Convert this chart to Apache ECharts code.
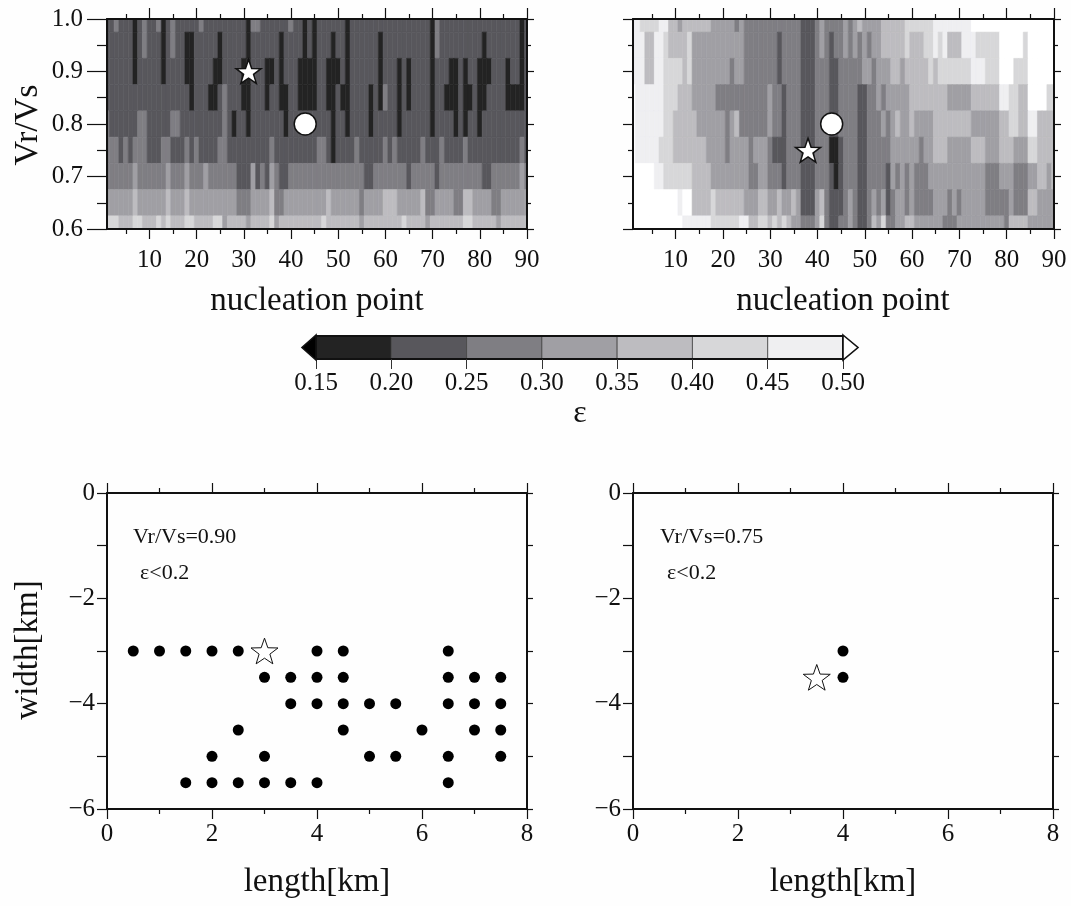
<!DOCTYPE html>
<html>
<head>
<meta charset="utf-8">
<title>Vr/Vs - nucleation point misfit</title>
<script src="https://cdn.jsdelivr.net/npm/echarts@6.0.0/dist/echarts.min.js"></script>
<style>
  html, body { margin: 0; padding: 0; background: #fefefe; }
  #chart { width: 1071px; height: 906px; }
</style>
</head>
<body>
<div id="chart"></div>
<script>
// ---------- data ----------
// rows of the misfit maps, top (Vr/Vs = 1.00) to bottom (0.60)
const vrvsRows = [1.00, 0.95, 0.90, 0.85, 0.80, 0.75, 0.70, 0.65, 0.60];

// colour scale of epsilon
const epsBreaks = [0.15, 0.20, 0.25, 0.30, 0.35, 0.40, 0.45, 0.50];
const epsColors = ['#232323', '#58575c', '#7f7e83', '#a09fa4', '#bdbcc0', '#d7d7d9', '#efeff1'];
const belowColor = '#000000';
const aboveColor = '#ffffff';

// epsilon, one digit per nucleation point (1..90):
// 1 = 0.15-0.20, 2 = 0.20-0.25 ... 7 = 0.45-0.50, 8 = above 0.50
const epsByCode = [0.14, 0.175, 0.225, 0.275, 0.325, 0.375, 0.425, 0.475, 0.52];

const misfitLeft = [
  '2232221232 2312322222 3222222222 1332222223 2212122222 2122222222 2222222221 3222222222 2222222212',
  '2222221232 2212322112 2222122222 1222222122 2212122212 2122222212 2222222221 3222222222 1222222212',
  '2222221222 2212222112 2221122221 1222112122 2111122111 2122222212 2212122221 2221121221 1122212212',
  '2222222222 2222222212 2211232221 1222122112 2111122112 1122221213 2212122221 2211121121 1222211112',
  '3222222332 2222332222 2222232122 1222222212 2222222212 2122221222 2212222221 2222121221 2222222222',
  '3332323332 2233222323 2222332222 2222232222 2222233212 2223222223 2322222322 2322223222 2222222232',
  '3333334333 3334333433 3433333322 2423243223 3333333333 3333322333 3333233333 2333333333 2233333343',
  '4444445444 4445444544 4444444433 3444453344 4444444544 4444344445 5544444533 4444335544 4433444444',
  '6665556655 5656555665 5556645555 4555564555 5555556555 5555455555 5556555545 5555556655 5554555555'
];

const misfitRight = [
  '7766667755 4555555444 4434333333 3333332223 4333343454 4445555566 6666777777 7788888888 8888888888',
  '7775577655 5564444444 4444333333 3233332223 4323343434 3445555565 5566767555 7776666688 8886888888',
  '7775577666 6564444444 4344333333 3233332223 3322333334 4344455455 5556566666 6677766688 8666888888',
  '8777777666 5554444433 3333333334 3323332223 3322333322 3343444445 5555555444 4455555577 6655888866',
  '8777777665 5555444444 3453333334 3323332223 3322333322 3334345445 4444555555 5544444455 6655775555',
  '8777776665 5555554444 3444434443 2223332223 3311233322 3333344444 4344555444 4455544455 5444665555',
  '8888877666 6665555444 4444433443 3323332223 3321233322 3333243434 3334444444 4444433344 4333445545',
  '8888888888 7885555655 5555444554 4544542224 5322234322 3434234434 3333444343 4444433333 4333554444',
  '8888888888 8777777666 6667755665 6565443334 6322334322 3546334455 4444443334 4444444443 5555444444'
];

const heatXTicks = [10, 20, 30, 40, 50, 60, 70, 80, 90];
const heatXMinorTicks = [5, 15, 25, 35, 45, 55, 65, 75, 85];

// best solution (star) and reference (circle) on the maps
const bestLeft = [[31, 0.90]];
const bestRight = [[38, 0.75]];
const refPoint = [[43, 0.80]];

// nucleation points with epsilon < 0.2 on the fault plane
const dotsLeft = [
  [0.5, -3], [1, -3], [1.5, -3], [2, -3], [2.5, -3], [4, -3], [4.5, -3], [6.5, -3],
  [3, -3.5], [3.5, -3.5], [4, -3.5], [4.5, -3.5], [6.5, -3.5], [7, -3.5], [7.5, -3.5],
  [3.5, -4], [4, -4], [4.5, -4], [5, -4], [5.5, -4], [6.5, -4], [7, -4], [7.5, -4],
  [2.5, -4.5], [4.5, -4.5], [6, -4.5], [7, -4.5], [7.5, -4.5],
  [2, -5], [3, -5], [5, -5], [5.5, -5], [6.5, -5], [7.5, -5],
  [1.5, -5.5], [2, -5.5], [2.5, -5.5], [3, -5.5], [3.5, -5.5], [4, -5.5], [6.5, -5.5]
];
const starLeft = [[3, -3]];
const dotsRight = [[4, -3], [4, -3.5]];
const starRight = [[3.5, -3.5]];

const labelLeft = ['Vr/Vs=0.90', 'ε<0.2'];
const labelRight = ['Vr/Vs=0.75', 'ε<0.2'];

// ---------- helpers ----------
const serif = "'Liberation Serif', 'Times New Roman', serif";
const ink = '#111';
const starPath = 'path://M0,-10L2.35,-3.24L9.51,-3.09L3.8,1.24L5.88,8.09L0,4.1L-5.88,8.09L-3.8,1.24L-9.51,-3.09L-2.35,-3.24Z';

function toCells(rows) {
  const cells = [];
  rows.forEach(function (row, r) {
    const codes = row.replace(/ /g, '');
    for (let i = 0; i < codes.length; i++) {
      cells.push([i + 1, vrvsRows[r], epsByCode[+codes[i]]]);
    }
  });
  return cells;
}

function epsColor(e) {
  if (e < epsBreaks[0]) return belowColor;
  for (let k = 0; k < epsColors.length; k++) {
    if (e < epsBreaks[k + 1]) return epsColors[k];
  }
  return aboveColor;
}

function renderCell(params, api) {
  const x = api.value(0), y = api.value(1);
  const a = api.coord([x - 0.5, y + 0.025]);
  const b = api.coord([x + 0.5, y - 0.025]);
  const cs = params.coordSys;
  const rect = echarts.graphic.clipRectByRect(
    { x: a[0], y: a[1], width: b[0] - a[0], height: b[1] - a[1] },
    { x: cs.x, y: cs.y, width: cs.width, height: cs.height });
  if (!rect) return;
  const c = epsColor(api.value(2));
  return { type: 'rect', shape: rect, style: { fill: c, stroke: c, lineWidth: 0.6 } };
}

const frameLine = { show: true, onZero: false, lineStyle: { color: ink, width: 2 } };
const noLine = { show: false };
const tickStyle = { color: ink, width: 1.2 };
const tickFont = { fontFamily: serif, fontSize: 25, color: ink };
const minusFmt = function (v) { return String(v).replace('-', '\u2212'); };

const xAxes = [];
const yAxes = [];
function addX(cfg) { xAxes.push(Object.assign({ type: 'value', splitLine: { show: false }, z: 10 }, cfg)); return xAxes.length - 1; }
function addY(cfg) { yAxes.push(Object.assign({ type: 'value', splitLine: { show: false }, z: 10 }, cfg)); return yAxes.length - 1; }

function heatAxes(g, withYLabels) {
  const xi = addX({ gridIndex: g, position: 'bottom', min: 1, max: 90, axisLine: frameLine,
    axisTick: { customValues: heatXTicks, length: 10, lineStyle: tickStyle },
    axisLabel: Object.assign({ customValues: heatXTicks, margin: 19 }, tickFont) });
  addX({ gridIndex: g, position: 'bottom', min: 1, max: 90, axisLine: noLine,
    axisTick: { customValues: heatXMinorTicks, length: 5, lineStyle: tickStyle }, axisLabel: { show: false } });
  addX({ gridIndex: g, position: 'top', min: 1, max: 90, axisLine: frameLine,
    axisTick: { customValues: heatXTicks, length: 11, lineStyle: tickStyle }, axisLabel: { show: false } });
  addX({ gridIndex: g, position: 'top', min: 1, max: 90, axisLine: noLine,
    axisTick: { customValues: heatXMinorTicks, length: 5, lineStyle: tickStyle }, axisLabel: { show: false } });
  const yi = addY({ gridIndex: g, position: 'left', min: 0.6, max: 1.0, interval: 0.1, axisLine: frameLine,
    axisTick: { length: withYLabels ? 20 : 10, lineStyle: tickStyle },
    minorTick: { show: true, splitNumber: 2, length: withYLabels ? 10 : 5, lineStyle: tickStyle },
    minorSplitLine: { show: false },
    axisLabel: Object.assign({ show: withYLabels, margin: 24, formatter: function (v) { return v.toFixed(1); } }, tickFont) });
  addY({ gridIndex: g, position: 'right', min: 0.6, max: 1.0, interval: 0.1, axisLine: frameLine,
    axisTick: { length: 7, lineStyle: tickStyle },
    minorTick: { show: true, splitNumber: 2, length: 4, lineStyle: tickStyle },
    minorSplitLine: { show: false }, axisLabel: { show: false } });
  return [xi, yi];
}

function faultAxes(g) {
  const xi = addX({ gridIndex: g, position: 'bottom', min: 0, max: 8, interval: 2, axisLine: frameLine,
    axisTick: { length: 10, lineStyle: tickStyle },
    minorTick: { show: true, splitNumber: 2, length: 5, lineStyle: tickStyle }, minorSplitLine: { show: false },
    axisLabel: Object.assign({ margin: 13 }, tickFont) });
  addX({ gridIndex: g, position: 'top', min: 0, max: 8, interval: 2, axisLine: frameLine,
    axisTick: { length: 10, lineStyle: tickStyle },
    minorTick: { show: true, splitNumber: 2, length: 5, lineStyle: tickStyle }, minorSplitLine: { show: false },
    axisLabel: { show: false } });
  const yi = addY({ gridIndex: g, position: 'left', min: -6, max: 0, interval: 2, axisLine: frameLine,
    axisTick: { length: 10, lineStyle: tickStyle },
    minorTick: { show: true, splitNumber: 2, length: 10, lineStyle: tickStyle }, minorSplitLine: { show: false },
    axisLabel: Object.assign({ margin: 12, formatter: minusFmt }, tickFont) });
  addY({ gridIndex: g, position: 'right', min: -6, max: 0, interval: 2, axisLine: frameLine,
    axisTick: { length: 6, lineStyle: tickStyle },
    minorTick: { show: true, splitNumber: 2, length: 6, lineStyle: tickStyle }, minorSplitLine: { show: false },
    axisLabel: { show: false } });
  return [xi, yi];
}

// ---------- grids & axes ----------
const grids = [
  { left: 107, top: 19, width: 420, height: 210 },
  { left: 633, top: 19, width: 421, height: 210 },
  { left: 316, top: 336, width: 527, height: 23 },
  { left: 107, top: 493, width: 420, height: 316 },
  { left: 633, top: 493, width: 420, height: 316 }
].map(function (g) { return Object.assign({ containLabel: false, outerBoundsMode: 'none' }, g); });

const heatL = heatAxes(0, true);
const heatR = heatAxes(1, false);

const barX = addX({ gridIndex: 2, position: 'bottom', min: 0.15, max: 0.5, interval: 0.05, axisLine: frameLine,
  axisTick: { length: 10, lineStyle: { color: '#333', width: 1 } },
  axisLabel: Object.assign({ margin: 12, formatter: function (v) { return v.toFixed(2); } }, tickFont) });
addX({ gridIndex: 2, position: 'top', min: 0.15, max: 0.5, axisLine: frameLine, axisTick: { show: false }, axisLabel: { show: false } });
const barY = addY({ gridIndex: 2, position: 'left', min: 0, max: 1, axisLine: frameLine, axisTick: { show: false }, axisLabel: { show: false } });
addY({ gridIndex: 2, position: 'right', min: 0, max: 1, axisLine: frameLine, axisTick: { show: false }, axisLabel: { show: false } });

const faultL = faultAxes(3);
const faultR = faultAxes(4);

const barPieces = epsColors.map(function (c, k) { return [epsBreaks[k], epsBreaks[k + 1]]; });

const solid = { opacity: 1 };

function heatSeries(ax, rows, best) {
  return [
    { type: 'custom', xAxisIndex: ax[0], yAxisIndex: ax[1], renderItem: renderCell,
      dimensions: ['point', 'vrvs', 'eps'], encode: { x: 0, y: 1 }, data: toCells(rows), z: 2, silent: true },
    { type: 'scatter', xAxisIndex: ax[0], yAxisIndex: ax[1], data: refPoint, symbol: 'circle', symbolSize: 22,
      itemStyle: Object.assign({ color: '#fff', borderColor: ink, borderWidth: 1.5 }, solid), z: 20, silent: true },
    { type: 'scatter', xAxisIndex: ax[0], yAxisIndex: ax[1], data: best, symbol: starPath, symbolSize: 25,
      symbolKeepAspect: true, itemStyle: Object.assign({ color: '#fff', borderColor: ink, borderWidth: 1.5 }, solid), z: 21, silent: true }
  ];
}

function faultSeries(ax, dots, star) {
  return [
    { type: 'scatter', xAxisIndex: ax[0], yAxisIndex: ax[1], data: dots, symbol: 'circle', symbolSize: 11,
      itemStyle: Object.assign({ color: '#000' }, solid), z: 20, silent: true },
    { type: 'scatter', xAxisIndex: ax[0], yAxisIndex: ax[1], data: star, symbol: starPath, symbolSize: 27,
      symbolKeepAspect: true, itemStyle: Object.assign({ color: '#fff', borderColor: ink, borderWidth: 1 }, solid), z: 21, silent: true }
  ];
}

const series = [].concat(
  heatSeries(heatL, misfitLeft, bestLeft),
  heatSeries(heatR, misfitRight, bestRight),
  [
    { type: 'custom', xAxisIndex: barX, yAxisIndex: barY, data: barPieces, silent: true, z: 2,
      encode: { x: [0, 1] },
      renderItem: function (params, api) {
        const a = api.coord([api.value(0), 1]);
        const b = api.coord([api.value(1), 0]);
        return { type: 'rect', shape: { x: a[0], y: a[1], width: b[0] - a[0], height: b[1] - a[1] },
          style: { fill: epsColors[params.dataIndex], stroke: '#444', lineWidth: 0.8 } };
      } },
    { type: 'custom', xAxisIndex: barX, yAxisIndex: barY, data: [[epsBreaks[0]], [epsBreaks[epsBreaks.length - 1]]],
      silent: true, z: 12, encode: { x: 0 },
      renderItem: function (params, api) {
        const top = api.coord([api.value(0), 1]);
        const bot = api.coord([api.value(0), 0]);
        const mid = (top[1] + bot[1]) / 2;
        const below = params.dataIndex === 0;
        const tip = below ? top[0] - 14 : top[0] + 15;
        return { type: 'polygon', shape: { points: [[top[0], top[1] - 1], [tip, mid], [top[0], bot[1] + 1]] },
          style: { fill: below ? belowColor : aboveColor, stroke: ink, lineWidth: 1.6 } };
      } }
  ],
  faultSeries(faultL, dotsLeft, starLeft),
  faultSeries(faultR, dotsRight, starRight)
);

function txt(x, y, text, size, rotate, align) {
  return { type: 'text', x: x, y: y, rotation: rotate ? Math.PI / 2 : 0, z: 30,
    style: { text: text, font: size + 'px ' + serif, fill: ink,
      textAlign: align || 'center', align: align || 'center', textVerticalAlign: 'middle', verticalAlign: 'middle' } };
}

const option = {
  backgroundColor: '#fefefe',
  animation: false,
  grid: grids,
  xAxis: xAxes,
  yAxis: yAxes,
  series: series,
  graphic: [
    txt(28, 125, 'Vr/Vs', 34, true),
    txt(317, 301, 'nucleation point', 33),
    txt(843, 301, 'nucleation point', 33),
    txt(580, 414, 'ε', 32),
    txt(28, 650, 'width[km]', 33, true),
    txt(317, 882, 'length[km]', 33),
    txt(843, 882, 'length[km]', 33),
    txt(133, 537, labelLeft[0], 22, false, 'left'),
    txt(140, 573, labelLeft[1], 22, false, 'left'),
    txt(660, 537, labelRight[0], 22, false, 'left'),
    txt(667, 573, labelRight[1], 22, false, 'left')
  ]
};

const chart = echarts.init(document.getElementById('chart'));
chart.setOption(option);
</script>
</body>
</html>
